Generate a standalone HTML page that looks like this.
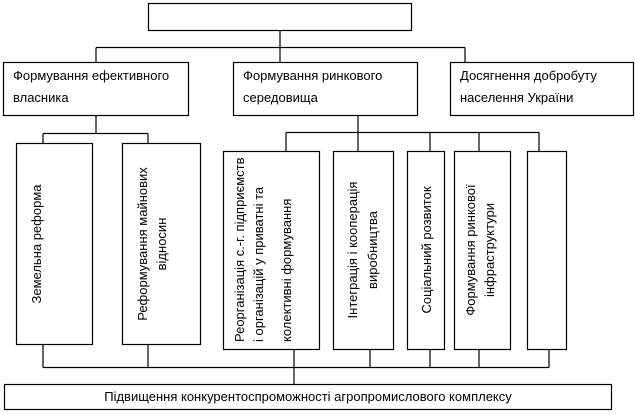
<!DOCTYPE html>
<html><head><meta charset="utf-8"><style>
html,body{margin:0;padding:0;background:#fff;}
svg{display:block;}
text{font-family:"Liberation Sans",Arial,sans-serif;font-size:13px;fill:#000;}
</style></head><body>
<svg width="635" height="414" viewBox="0 0 635 414" xmlns="http://www.w3.org/2000/svg">
<g fill="#fff" stroke="#000" stroke-width="1.2">
<rect x="148.5" y="3.5" width="263" height="27"/>
<rect x="3.5" y="62.5" width="185" height="53"/>
<rect x="233.5" y="62.5" width="184" height="53"/>
<rect x="450.5" y="62.5" width="183" height="53"/>
<rect x="16.5" y="143.5" width="76" height="201"/>
<rect x="122.5" y="143.5" width="78" height="201"/>
<rect x="223.5" y="151.5" width="96" height="198"/>
<rect x="333.5" y="151.5" width="60" height="198"/>
<rect x="407.5" y="151.5" width="37" height="198"/>
<rect x="454.5" y="151.5" width="56" height="198"/>
<rect x="527.5" y="151.5" width="39" height="198"/>
<rect x="4.5" y="384.5" width="607" height="25"/>
</g>
<g stroke="#000" stroke-width="1.2" fill="none">
<path d="M280 30.5V62.5M96 47.5H465M96 47.5V62.5M465 47.5V62.5"/>
<path d="M96 115.5V133.5M43 133.5H148M43 133.5V143.5M148 133.5V143.5"/>
<path d="M358 115.5V132.5M286 132.5H539M286 132.5V151.5M358 132.5V151.5M430 132.5V151.5M479 132.5V151.5M539 132.5V151.5"/>
<path d="M43 344.5V367.5M148 344.5V367.5M294 349.5V384.5M370 349.5V367.5M430 349.5V367.5M479 349.5V367.5M549 349.5V367.5M43 367.5H549"/>
</g>
<text x="13" y="80">Формування ефективного</text>
<text x="13" y="102">власника</text>
<text x="243" y="80">Формування ринкового</text>
<text x="243" y="102">середовища</text>
<text x="460" y="80">Досягнення добробуту</text>
<text x="460" y="102">населення України</text>
<text x="308" y="401" text-anchor="middle">Підвищення конкурентоспроможності агропромислового комплексу</text>
<text transform="translate(41,244) rotate(-90)" text-anchor="middle">Земельна реформа</text>
<text transform="translate(147,244) rotate(-90)" text-anchor="middle">Реформування майнових</text>
<text transform="translate(166,244) rotate(-90)" text-anchor="middle">відносин</text>
<text transform="translate(244,342) rotate(-90)">Реорганізація с.-г. підприємств</text>
<text transform="translate(263,342) rotate(-90)">і організацій у приватні та</text>
<text transform="translate(291,342) rotate(-90)">колективні формування</text>
<text transform="translate(357,250) rotate(-90)" text-anchor="middle">Інтеграція і кооперація</text>
<text transform="translate(377,250) rotate(-90)" text-anchor="middle">виробництва</text>
<text transform="translate(431,250) rotate(-90)" text-anchor="middle">Соціальний розвиток</text>
<text transform="translate(475,250) rotate(-90)" text-anchor="middle">Формування ринкової</text>
<text transform="translate(494,250) rotate(-90)" text-anchor="middle">інфраструктури</text>
</svg>
</body></html>
